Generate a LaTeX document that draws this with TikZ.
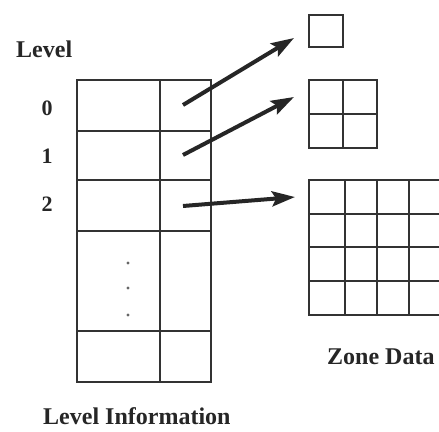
\documentclass[tikz,border=0pt]{standalone}
\usepackage{fontspec}
\setmainfont{Liberation Serif}
\usetikzlibrary{arrows.meta}
\begin{document}
\begin{tikzpicture}[x=1pt,y=-1pt,
  grid/.style={draw=black!80, line width=1.8pt, line cap=rect, line join=miter},
  lbl/.style={font=\fontsize{24}{28}\selectfont\bfseries, text=black!85, inner sep=0pt, anchor=base west},
  num/.style={font=\fontsize{22}{26}\selectfont\bfseries, text=black!85, inner sep=0pt, anchor=base},
  ptr/.style={line width=4pt, draw=black!85, -{Stealth[length=23pt,width=15pt,inset=4pt]}},
  dotmark/.style={fill=black!60}]
\clip (0,0) rectangle (439,431);
\fill[white] (0,0) rectangle (439,431);
% level information table
\draw[grid] (77,80) rectangle (211,382)
  (77,131) -- (211,131) (77,180) -- (211,180) (77,231) -- (211,231) (77,331) -- (211,331)
  (160,80) -- (160,382);
\foreach \yy in {263,288,315} \fill[dotmark] (128,\yy) circle (1.6);
% labels
\node[lbl] (lev) at (16,57) {Level};
\node[num] (n0) at (47,115) {0};
\node[num] (n1) at (47,163) {1};
\node[num] (n2) at (47,211) {2};
\node[lbl] (levinfo) at (43,424) {Level Information};
\node[lbl] (zone) at (327,364) {Zone Data};
% zone data
\draw[grid] (309,15) rectangle (343,47);
\draw[grid] (309,80) rectangle (377,148) (343,80) -- (343,148) (309,114) -- (377,114);
\draw[grid] (309,180) rectangle (443,315)
  (345,180) -- (345,315) (377,180) -- (377,315) (409,180) -- (409,315)
  (309,214) -- (443,214) (309,247) -- (443,247) (309,281) -- (443,281);
% arrow endpoints
\coordinate (s0) at (183,105);
\coordinate (s1) at (183,155);
\coordinate (s2) at (183,206);
\coordinate (t0) at (294,38);
\coordinate (t1) at (294,97);
\coordinate (t2) at (295,197);
\draw[ptr] (s0) -- (t0);
\draw[ptr] (s1) -- (t1);
\draw[ptr] (s2) -- (t2);
\end{tikzpicture}
\end{document}
